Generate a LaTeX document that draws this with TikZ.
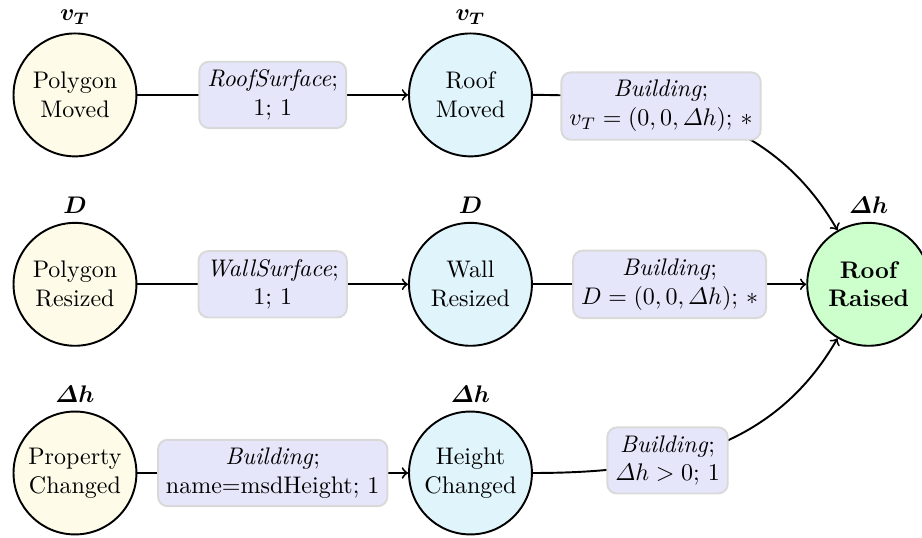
\documentclass[tikz,border=0pt]{standalone}
\usepackage{amsmath}
\usetikzlibrary{positioning}
\definecolor{srcfill}{HTML}{FEFCE8}
\definecolor{midfill}{HTML}{E0F4FB}
\definecolor{goalfill}{HTML}{CCFFCC}
\definecolor{lblfill}{HTML}{E6E6FA}
\begin{document}
\begin{tikzpicture}[>=to,
    event/.style={circle, draw, thick, minimum size=1.8cm, align=center, inner sep=1pt},
    src/.style={event, fill=srcfill},
    mid/.style={event, fill=midfill},
    goal/.style={event, fill=goalfill, font=\bfseries},
    lbl/.style={draw=gray!30, fill=lblfill, rounded corners=4pt, align=center},
    flow/.style={->, thick}]
  \useasboundingbox (0,0) rectangle (13.503,-7.879);
  % Source events
  \node[src, label={above:$\boldsymbol{v_T}$}] (pm) at (1.098,-1.39) {Polygon\\Moved};
  \node[src, label={above:$\boldsymbol{D}$}] (pr) at (1.098,-4.164) {Polygon\\Resized};
  \node[src, label={above:$\boldsymbol{\varDelta h}$}] (pc) at (1.098,-6.927) {Property\\Changed};
  % Derived events
  \node[mid, label={above:$\boldsymbol{v_T}$}] (rm) at (6.890,-1.39) {Roof\\Moved};
  \node[mid, label={above:$\boldsymbol{D}$}] (wr) at (6.890,-4.164) {Wall\\Resized};
  \node[mid, label={above:$\boldsymbol{\varDelta h}$}] (hc) at (6.890,-6.927) {Height\\Changed};
  % Goal event
  \node[goal, label={above:$\boldsymbol{\varDelta h}$}] (rr) at (12.722,-4.164) {Roof\\Raised};
  % First stage
  \draw[flow] (pm) -- node[lbl] {\textit{RoofSurface};\\1; 1} (rm);
  \draw[flow] (pr) -- node[lbl] {\textit{WallSurface};\\1; 1} (wr);
  \draw[flow] (pc) -- node[lbl] {\textit{Building};\\name=msdHeight; 1} (hc);
  % Second stage
  \draw[flow] (rm) to[out=0, in=120] node[lbl, pos=0.35] {\textit{Building};\\$v_T = (0,0,\varDelta h)$; $*$} (rr);
  \draw[flow] (wr) -- node[lbl] {\textit{Building};\\$D = (0,0,\varDelta h)$; $*$} (rr);
  \draw[flow] (hc) to[out=0, in=240] node[lbl, pos=0.37] {\textit{Building};\\$\varDelta h > 0$; 1} (rr);
\end{tikzpicture}
\end{document}
